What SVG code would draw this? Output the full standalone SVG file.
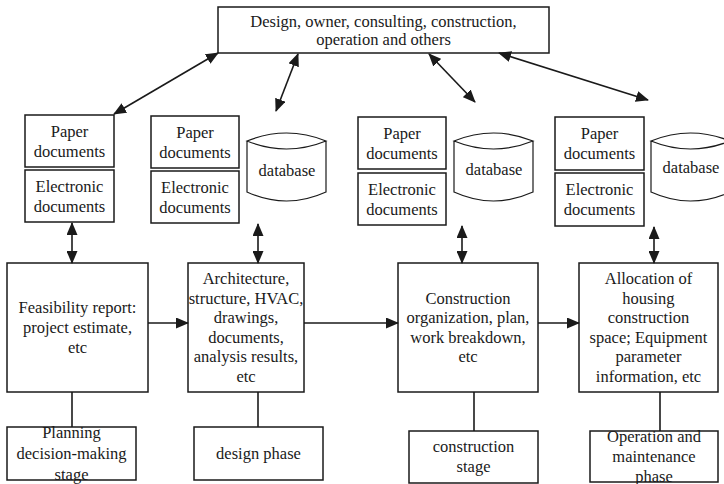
<svg xmlns="http://www.w3.org/2000/svg" width="724" height="484" viewBox="0 0 724 484">
  <style>
    .box { fill: #ffffff; stroke: #1a1a1a; stroke-width: 1.5; }
    .db { fill: #ffffff; stroke: #1a1a1a; stroke-width: 1.2; }
    .lbl { font-family: 'Liberation Serif', Tinos, 'Times New Roman', 'DejaVu Serif', serif; font-size: 16.5px; fill: #1a1a1a; text-anchor: middle; }
    .link { fill: none; stroke: #1a1a1a; stroke-width: 1.6; }
    .dbl { marker-start: url(#head); marker-end: url(#head); }
    .one { marker-end: url(#head); }
  </style>
  <defs>
    <marker id="head" markerUnits="userSpaceOnUse" markerWidth="13" markerHeight="11" refX="12" refY="5.5" orient="auto-start-reverse">
      <path d="M0,0 L13,5.5 L0,11 z" fill="#1a1a1a"/>
    </marker>
  </defs>

  <!-- participants -->
  <g id="participants">
    <rect class="box" x="218" y="7" width="331" height="46"/>
    <text class="lbl" font-family="Liberation Serif, serif" x="383.5" y="26.5">Design, owner, consulting, construction,</text>
    <text class="lbl" font-family="Liberation Serif, serif" x="383.5" y="45">operation and others</text>
  </g>

  <!-- document stores, column 1 -->
  <g id="paper-1">
    <rect class="box" x="25" y="115" width="89" height="52"/>
    <text class="lbl" x="69.5" y="136.5">Paper</text>
    <text class="lbl" x="69.5" y="156.5">documents</text>
  </g>
  <g id="electronic-1">
    <rect class="box" x="25" y="170" width="89" height="52"/>
    <text class="lbl" x="69.5" y="191.5">Electronic</text>
    <text class="lbl" x="69.5" y="211.5">documents</text>
  </g>

  <!-- document stores, column 2 -->
  <g id="paper-2">
    <rect class="box" x="151" y="116" width="88" height="52"/>
    <text class="lbl" x="195" y="137.5">Paper</text>
    <text class="lbl" x="195" y="157.5">documents</text>
  </g>
  <g id="electronic-2">
    <rect class="box" x="151" y="171" width="88" height="52"/>
    <text class="lbl" x="195" y="192.5">Electronic</text>
    <text class="lbl" x="195" y="212.5">documents</text>
  </g>
  <g id="database-2">
    <path class="db" d="M247,141 Q286.5,125 326,141 Q286.5,157 247,141 Z M247,141 L247,192 Q286.5,210 326,192 L326,141"/>
    <text class="lbl" x="287" y="176">database</text>
  </g>

  <!-- document stores, column 3 -->
  <g id="paper-3">
    <rect class="box" x="358" y="117" width="88" height="52"/>
    <text class="lbl" x="402" y="138.5">Paper</text>
    <text class="lbl" x="402" y="158.5">documents</text>
  </g>
  <g id="electronic-3">
    <rect class="box" x="358" y="173" width="88" height="52"/>
    <text class="lbl" x="402" y="194.5">Electronic</text>
    <text class="lbl" x="402" y="214.5">documents</text>
  </g>
  <g id="database-3">
    <path class="db" d="M454,141 Q493.5,125 533,141 Q493.5,157 454,141 Z M454,141 L454,192 Q493.5,210 533,192 L533,141"/>
    <text class="lbl" x="494" y="175">database</text>
  </g>

  <!-- document stores, column 4 -->
  <g id="paper-4">
    <rect class="box" x="555" y="117" width="89" height="53"/>
    <text class="lbl" x="599.5" y="139">Paper</text>
    <text class="lbl" x="599.5" y="159">documents</text>
  </g>
  <g id="electronic-4">
    <rect class="box" x="555" y="173" width="89" height="53"/>
    <text class="lbl" x="599.5" y="195">Electronic</text>
    <text class="lbl" x="599.5" y="215">documents</text>
  </g>
  <g id="database-4">
    <path class="db" d="M651,141 Q690.5,125 730,141 Q690.5,157 651,141 Z M651,141 L651,192 Q690.5,210 730,192 L730,141"/>
    <text class="lbl" x="691" y="173">database</text>
  </g>

  <!-- stage content -->
  <g id="content-1">
    <rect class="box" x="7" y="263" width="141" height="129"/>
    <text class="lbl" x="77.5" y="313.4">Feasibility report:</text>
    <text class="lbl" x="77.5" y="333">project estimate,</text>
    <text class="lbl" x="77.5" y="352.6">etc</text>
  </g>
  <g id="content-2">
    <rect class="box" x="188" y="263" width="116" height="129"/>
    <text class="lbl" x="246" y="284">Architecture,</text>
    <text class="lbl" x="246" y="303.6">structure, HVAC,</text>
    <text class="lbl" x="246" y="323.2">drawings,</text>
    <text class="lbl" x="246" y="342.8">documents,</text>
    <text class="lbl" x="246" y="362.4">analysis results,</text>
    <text class="lbl" x="246" y="382">etc</text>
  </g>
  <g id="content-3">
    <rect class="box" x="398" y="263" width="140" height="129"/>
    <text class="lbl" x="468" y="303.6">Construction</text>
    <text class="lbl" x="468" y="323.2">organization, plan,</text>
    <text class="lbl" x="468" y="342.8">work breakdown,</text>
    <text class="lbl" x="468" y="362.4">etc</text>
  </g>
  <g id="content-4">
    <rect class="box" x="579" y="263" width="139" height="129"/>
    <text class="lbl" x="648.5" y="284">Allocation of</text>
    <text class="lbl" x="648.5" y="303.6">housing</text>
    <text class="lbl" x="648.5" y="323.2">construction</text>
    <text class="lbl" x="648.5" y="342.8">space; Equipment</text>
    <text class="lbl" x="648.5" y="362.4">parameter</text>
    <text class="lbl" x="648.5" y="382">information, etc</text>
  </g>

  <!-- stage names -->
  <g id="stage-1">
    <rect class="box" x="7" y="427" width="129" height="53"/>
    <text class="lbl" x="71.5" y="438">Planning</text>
    <text class="lbl" x="71.5" y="459">decision-making</text>
    <text class="lbl" x="71.5" y="480">stage</text>
  </g>
  <g id="stage-2">
    <rect class="box" x="194" y="427" width="129" height="53"/>
    <text class="lbl" x="258.5" y="459">design phase</text>
  </g>
  <g id="stage-3">
    <rect class="box" x="409" y="431" width="129" height="52"/>
    <text class="lbl" x="473.5" y="452">construction</text>
    <text class="lbl" x="473.5" y="472">stage</text>
  </g>
  <g id="stage-4">
    <rect class="box" x="590" y="431" width="128" height="51"/>
    <text class="lbl" x="654" y="441.5">Operation and</text>
    <text class="lbl" x="654" y="461.5">maintenance</text>
    <text class="lbl" x="654" y="481.5">phase</text>
  </g>

  <!-- connectors -->
  <g id="connectors">
    <line class="link dbl" x1="218" y1="53" x2="114" y2="114"/>
    <line class="link dbl" x1="298" y1="54" x2="276" y2="111"/>
    <line class="link dbl" x1="429" y1="54" x2="475" y2="102"/>
    <line class="link dbl" x1="499" y1="53" x2="648" y2="100"/>

    <line class="link dbl" x1="72" y1="223" x2="72" y2="263"/>
    <line class="link dbl" x1="258" y1="224" x2="258" y2="263"/>
    <line class="link dbl" x1="462" y1="226" x2="462" y2="263"/>
    <line class="link dbl" x1="654" y1="227" x2="654" y2="263"/>

    <line class="link one" x1="148" y1="323" x2="188" y2="323"/>
    <line class="link one" x1="304" y1="323" x2="398" y2="323"/>
    <line class="link one" x1="538" y1="323" x2="579" y2="323"/>

    <line class="link" x1="72" y1="392" x2="72" y2="427"/>
    <line class="link" x1="258" y1="392" x2="258" y2="427"/>
    <line class="link" x1="474" y1="392" x2="474" y2="431"/>
    <line class="link" x1="660" y1="392" x2="660" y2="431"/>
  </g>
</svg>
